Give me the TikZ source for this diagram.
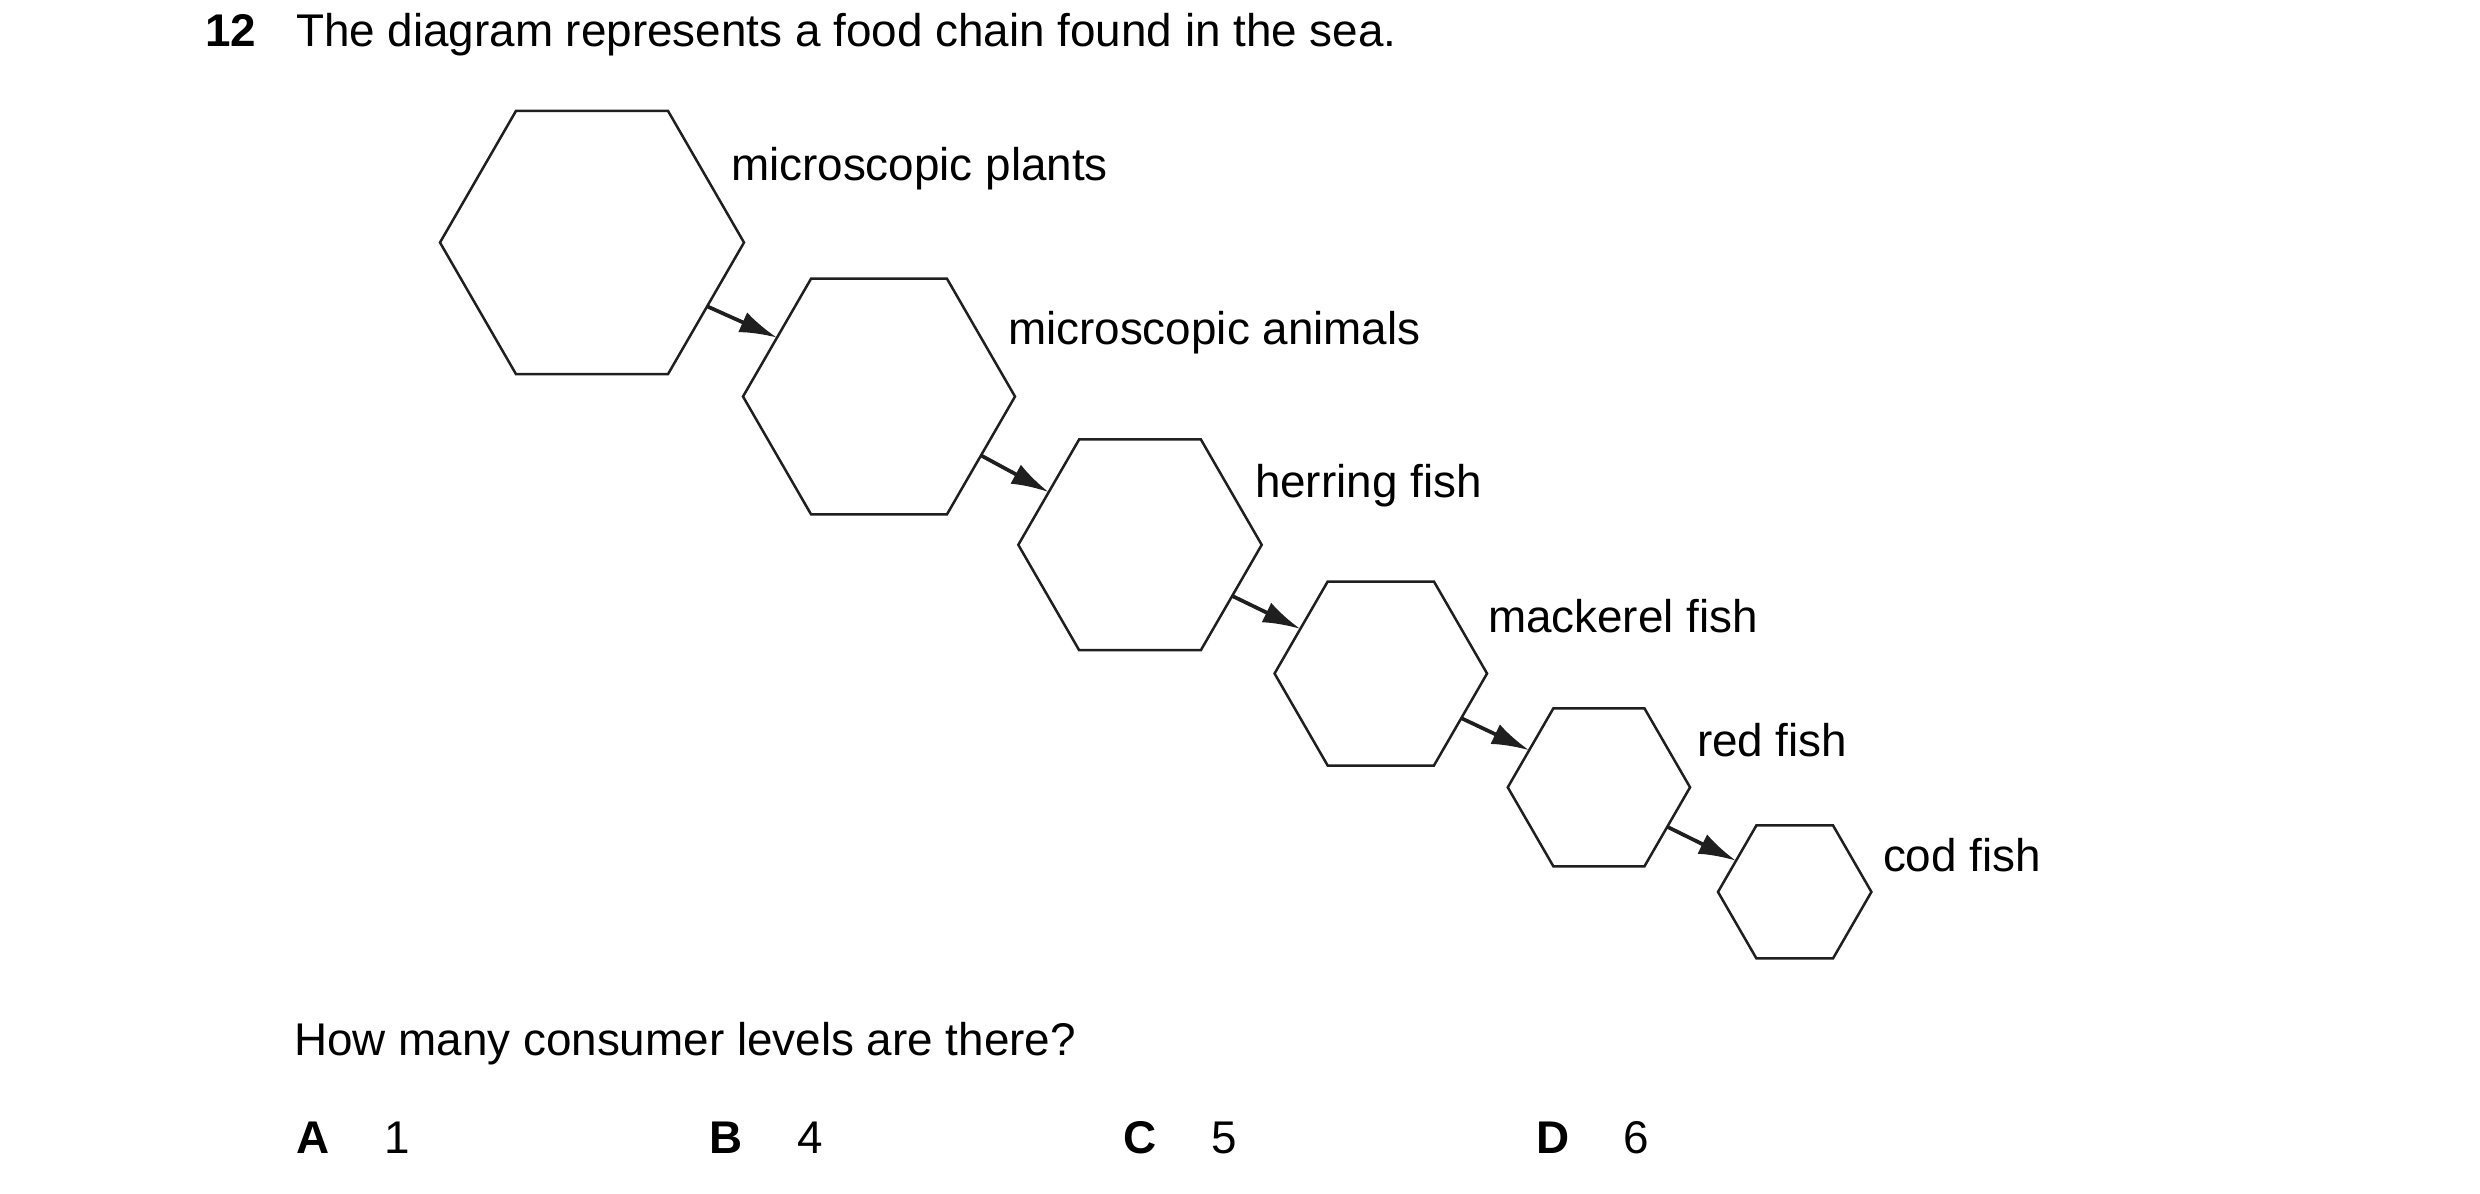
\documentclass[tikz,border=0pt]{standalone}
\usepackage{fontspec}
\setmainfont{Liberation Sans}
\usetikzlibrary{shapes.geometric,arrows.meta}
\definecolor{ink}{gray}{0.12}
\begin{document}
\begin{tikzpicture}[x=0.24pt,y=-0.24pt,
  hexa/.style={regular polygon, regular polygon sides=6, draw=ink, line width=0.6pt,
    inner sep=0pt, outer sep=0pt, minimum size=#1},
  link/.style={draw=ink, line width=0.9pt, -{Latex[length=9pt,width=5.2pt]}},
  txt/.style={anchor=base west, inner sep=0pt, outer sep=0pt, text=black,
    font=\fontsize{11}{13}\selectfont}]
\useasboundingbox (0,0) rectangle (2480,1193);

% question
\node[txt] (num) at (205,46) {\bfseries 12};
\node[txt] (title) at (296,46) {The diagram represents a food chain found in the sea.};

% hexagons
\node[hexa=72.96pt] (h1) at (592,242.5) {};
\node[hexa=65.28pt] (h2) at (879,396.5) {};
\node[hexa=58.42pt] (h3) at (1140,544.8) {};
\node[hexa=51.0pt]  (h4) at (1380.8,673.5) {};
\node[hexa=43.75pt] (h5) at (1598.9,787.3) {};
\node[hexa=36.82pt] (h6) at (1794.7,891.9) {};

% arrows
\draw[link] (h1.-29) -- (h2.150);
\draw[link] (h2.-30) -- (h3.150);
\draw[link] (h3.-29) -- (h4.151);
\draw[link] (h4.-29) -- (h5.152);
\draw[link] (h5.-30) -- (h6.152);

% labels
\node[txt] (l1) at (731,180) {microscopic plants};
\node[txt] (l2) at (1008,344) {microscopic animals};
\node[txt] (l3) at (1255,497.3) {herring fish};
\node[txt] (l4) at (1488,632.7) {mackerel fish};
\node[txt] (l5) at (1697,756.7) {red fish};
\node[txt] (l6) at (1883,871.7) {cod fish};

% question and options
\node[txt] (q) at (294,1055) {How many consumer levels are there?};
\node[txt] (oA) at (296,1153) {\bfseries A};
\node[txt] (vA) at (384,1153) {1};
\node[txt] (oB) at (709,1153) {\bfseries B};
\node[txt] (vB) at (797,1153) {4};
\node[txt] (oC) at (1123,1153) {\bfseries C};
\node[txt] (vC) at (1211,1153) {5};
\node[txt] (oD) at (1536,1153) {\bfseries D};
\node[txt] (vD) at (1623,1153) {6};
\end{tikzpicture}
\end{document}
